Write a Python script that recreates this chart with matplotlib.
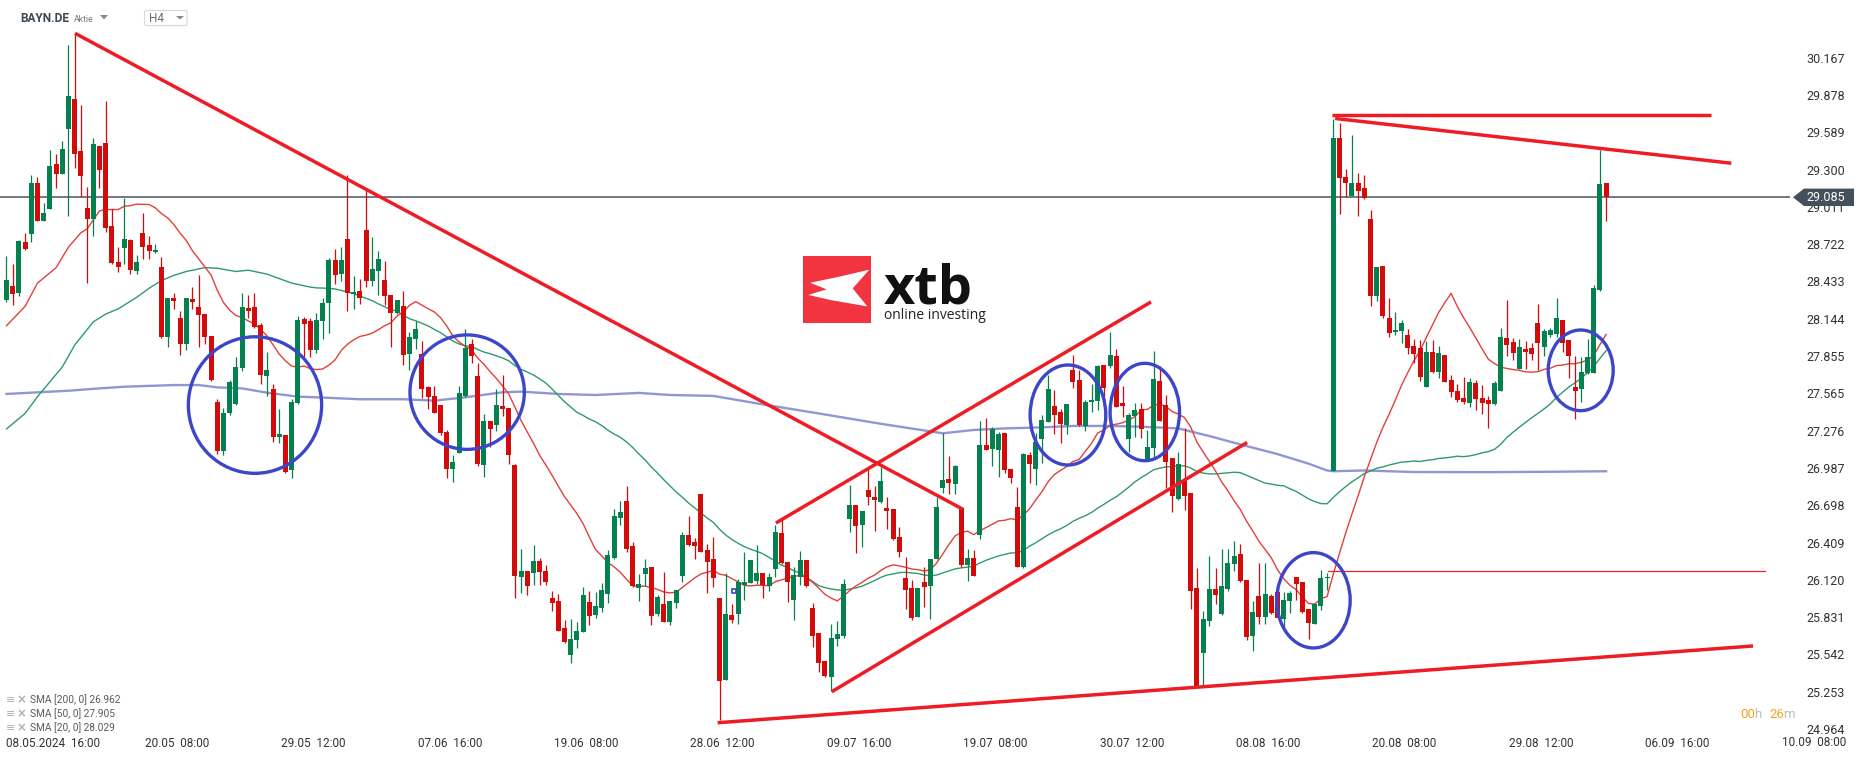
import numpy as np
import pandas as pd
import matplotlib
matplotlib.use("Agg")
import matplotlib.pyplot as plt
from matplotlib.patches import Ellipse, Polygon, FancyBboxPatch, Rectangle

plt.rcParams['font.family'] = ['Roboto', 'DejaVu Sans']

# ---------------- data (H4 candles, BAYN.DE) ----------------
opens = [
    28.289, 28.398, 28.346, 28.738, 28.803, 29.193, 28.904, 28.997, 29.343, 29.268,
    29.617, 29.847, 29.444, 29.002, 28.919, 29.483, 29.506, 28.863, 28.584, 28.695,
    28.754, 28.516, 28.806, 28.713, 28.658, 28.545, 28.005, 28.305, 28.150, 27.951,
    28.297, 28.235, 28.181, 28.007, 27.499, 27.121, 27.416, 27.483, 27.760, 28.228,
    28.235, 28.096, 27.703, 27.600, 27.225, 27.243, 26.972, 27.489, 28.142, 28.127,
    27.902, 28.127, 28.269, 28.600, 28.491, 28.762, 28.336, 28.357, 28.832, 28.439,
    28.517, 28.445, 28.328, 28.186, 28.243, 27.871, 27.987, 27.871, 27.613, 27.543,
    27.476, 27.267, 26.977, 27.106, 27.548, 27.946, 27.701, 27.013, 27.352, 27.323,
    27.468, 27.452, 27.011, 26.145, 26.189, 26.176, 26.267, 26.189, 25.983, 25.957,
    25.748, 25.541, 25.655, 25.714, 25.946, 25.846, 25.900, 26.008, 26.293, 26.603,
    26.732, 26.383, 26.060, 26.169, 26.223, 25.853, 25.934, 25.797, 25.939, 26.153,
    26.468, 26.414, 26.786, 26.352, 26.282, 25.980, 25.347, 25.848, 25.858, 26.078,
    26.098, 26.114, 26.171, 26.073, 26.207, 26.483, 26.259, 25.967, 26.140, 26.274,
    25.902, 25.708, 25.494, 25.370, 25.664, 25.685, 26.594, 26.700, 26.548, 26.817,
    26.762, 26.726, 26.677, 26.669, 26.452, 26.135, 26.057, 25.835, 26.104, 26.075,
    26.279, 26.835, 26.902, 26.860, 26.674, 26.235, 26.287, 26.468, 27.165, 27.137,
    27.124, 27.256, 26.977, 26.682, 26.222, 27.090, 26.982, 27.209, 27.346, 27.465,
    27.418, 27.320, 27.747, 27.669, 27.313, 27.496, 27.506, 27.785, 27.778, 27.855,
    27.488, 27.209, 27.393, 27.442, 27.059, 27.145, 27.661, 27.475, 27.065, 26.748,
    26.888, 26.793, 26.057, 25.553, 25.799, 26.049, 25.856, 26.049, 26.244, 26.318,
    26.117, 25.687, 25.998, 25.835, 25.998, 26.028, 25.820, 25.959, 26.146, 26.102,
    25.894, 25.782, 25.918, 26.131, 26.962, 29.542, 29.246, 29.097, 29.195, 29.157,
    28.917, 28.320, 28.552, 28.148, 28.039, 28.048, 28.018, 27.933, 27.914, 27.617,
    27.886, 27.734, 27.863, 27.669, 27.584, 27.527, 27.493, 27.643, 27.527, 27.514,
    27.480, 27.586, 27.992, 27.961, 27.754, 27.909, 27.914, 28.108, 27.927, 28.018,
    28.026, 28.134, 27.979, 27.612, 27.597, 27.726, 27.726, 28.367, 29.193,
]
highs = [
    28.630, 28.568, 28.754, 28.806, 29.258, 29.242, 29.041, 29.452, 29.421, 29.521,
    30.265, 30.356, 29.800, 29.167, 29.545, 29.483, 29.831, 28.997, 28.702, 29.077,
    28.762, 28.638, 28.961, 28.785, 28.723, 28.622, 28.305, 28.343, 28.201, 28.305,
    28.390, 28.480, 28.181, 28.007, 27.522, 27.455, 27.669, 27.847, 28.346, 28.326,
    28.341, 28.109, 27.887, 27.636, 27.447, 27.243, 27.525, 28.166, 28.160, 28.147,
    28.186, 28.302, 28.612, 28.687, 28.700, 29.258, 28.476, 28.450, 29.142, 28.775,
    28.669, 28.592, 28.328, 28.289, 28.359, 28.042, 28.129, 27.972, 27.626, 27.623,
    27.476, 27.282, 27.088, 27.623, 28.062, 27.985, 27.804, 27.406, 27.354, 27.600,
    27.708, 27.452, 27.019, 26.360, 26.189, 26.388, 26.293, 26.236, 26.032, 26.011,
    25.810, 25.817, 25.794, 26.065, 26.037, 26.029, 26.094, 26.352, 26.670, 26.734,
    26.848, 26.414, 26.166, 26.285, 26.223, 26.003, 26.181, 25.957, 26.045, 26.492,
    26.616, 26.445, 26.786, 26.399, 26.455, 25.980, 26.171, 25.933, 26.124, 26.336,
    26.274, 26.388, 26.171, 26.171, 26.543, 26.589, 26.259, 26.222, 26.344, 26.274,
    25.938, 25.708, 25.494, 25.778, 25.799, 26.124, 26.855, 26.700, 26.654, 26.997,
    26.850, 26.997, 26.760, 26.669, 26.527, 26.297, 26.119, 26.057, 26.222, 26.282,
    26.760, 27.256, 27.080, 27.008, 26.687, 26.357, 26.351, 27.354, 27.375, 27.302,
    27.263, 27.256, 26.977, 26.842, 27.106, 27.108, 27.261, 27.400, 27.708, 27.592,
    27.444, 27.483, 27.863, 27.747, 27.514, 27.638, 27.783, 27.785, 28.041, 27.912,
    27.625, 27.411, 27.488, 27.488, 27.282, 27.894, 27.780, 27.553, 27.065, 27.110,
    27.294, 26.793, 26.215, 25.879, 26.309, 26.215, 26.363, 26.363, 26.422, 26.398,
    26.117, 25.954, 26.250, 26.250, 26.007, 26.037, 26.028, 26.034, 26.146, 26.102,
    25.894, 25.939, 26.197, 26.176, 29.691, 29.661, 29.305, 29.566, 29.270, 29.258,
    28.988, 28.546, 28.552, 28.306, 28.193, 28.134, 28.065, 27.984, 27.979, 27.971,
    27.979, 27.933, 27.863, 27.705, 27.638, 27.695, 27.682, 27.669, 27.630, 27.545,
    27.664, 28.069, 28.289, 27.992, 27.984, 27.971, 27.953, 28.258, 28.062, 28.069,
    28.302, 28.134, 27.979, 27.855, 27.850, 27.984, 28.405, 29.452, 29.193,
]
lows = [
    28.276, 28.250, 28.320, 28.677, 28.741, 28.904, 28.904, 28.997, 29.157, 29.268,
    28.943, 29.309, 29.090, 28.418, 28.788, 29.160, 28.813, 28.565, 28.503, 28.565,
    28.488, 28.493, 28.604, 28.609, 28.656, 27.997, 27.927, 28.222, 27.860, 27.904,
    28.222, 27.927, 27.948, 27.664, 27.093, 27.085, 27.398, 27.475, 27.742, 28.153,
    28.075, 27.636, 27.546, 27.192, 27.179, 26.951, 26.907, 27.484, 27.850, 27.845,
    27.876, 27.985, 28.036, 28.414, 28.437, 28.207, 28.220, 28.259, 28.393, 28.398,
    28.328, 28.248, 27.928, 28.178, 27.788, 27.750, 27.907, 27.527, 27.442, 27.411,
    27.243, 26.907, 26.882, 27.106, 27.540, 27.799, 27.006, 26.920, 27.148, 27.277,
    27.390, 27.016, 25.977, 26.016, 26.006, 26.083, 26.081, 26.083, 25.882, 25.727,
    25.629, 25.474, 25.590, 25.714, 25.771, 25.822, 25.874, 25.939, 26.285, 26.546,
    26.337, 26.068, 25.959, 26.076, 25.768, 25.841, 25.791, 25.768, 25.905, 26.101,
    26.383, 26.285, 26.337, 26.021, 26.067, 25.034, 25.347, 25.783, 25.781, 25.964,
    26.093, 26.088, 25.982, 26.036, 26.142, 26.243, 25.951, 25.812, 26.080, 26.067,
    25.602, 25.403, 25.370, 25.256, 25.610, 25.672, 26.494, 26.331, 26.377, 26.700,
    26.501, 26.713, 26.514, 26.429, 26.300, 25.894, 25.809, 25.835, 25.912, 25.819,
    26.279, 26.791, 26.786, 26.783, 26.222, 26.114, 26.153, 26.437, 27.129, 27.003,
    26.920, 26.946, 26.871, 26.222, 26.215, 26.868, 26.855, 27.023, 27.346, 27.251,
    27.178, 27.251, 27.604, 27.313, 27.276, 27.424, 27.437, 27.501, 27.759, 27.462,
    27.385, 27.108, 27.230, 27.217, 27.049, 27.070, 27.349, 26.829, 26.649, 26.740,
    26.665, 25.894, 25.292, 25.301, 25.761, 25.936, 25.850, 26.037, 26.191, 26.102,
    25.657, 25.568, 25.781, 25.776, 25.859, 25.820, 25.746, 25.865, 25.968, 25.865,
    25.663, 25.776, 25.889, 26.043, 26.962, 28.958, 29.089, 29.092, 28.943, 29.074,
    28.246, 28.282, 28.148, 28.000, 28.015, 27.956, 27.867, 27.798, 27.661, 27.617,
    27.726, 27.682, 27.656, 27.540, 27.501, 27.483, 27.457, 27.437, 27.406, 27.295,
    27.475, 27.586, 27.855, 27.824, 27.752, 27.754, 27.824, 27.744, 27.855, 28.000,
    28.005, 27.889, 27.687, 27.364, 27.501, 27.713, 27.726, 28.361, 28.904,
]
closes = [
    28.444, 28.336, 28.746, 28.684, 29.193, 28.904, 28.963, 29.328, 29.268, 29.459,
    29.870, 29.423, 29.253, 28.919, 29.495, 29.299, 28.850, 28.578, 28.547, 28.759,
    28.524, 28.584, 28.702, 28.666, 28.677, 28.005, 28.305, 28.284, 27.951, 28.305,
    28.276, 28.170, 28.005, 27.669, 27.121, 27.411, 27.654, 27.770, 28.238, 28.207,
    28.083, 27.711, 27.747, 27.225, 27.251, 26.959, 27.499, 28.135, 28.106, 27.902,
    28.135, 28.264, 28.600, 28.486, 28.600, 28.341, 28.349, 28.302, 28.437, 28.530,
    28.607, 28.323, 28.186, 28.289, 27.866, 28.003, 28.065, 27.600, 27.540, 27.411,
    27.256, 26.977, 27.031, 27.566, 27.915, 27.858, 27.019, 27.352, 27.292, 27.476,
    27.442, 27.091, 26.153, 26.189, 26.076, 26.267, 26.184, 26.107, 25.944, 25.727,
    25.639, 25.662, 25.725, 26.003, 25.840, 25.918, 26.042, 26.313, 26.616, 26.647,
    26.357, 26.073, 26.086, 26.215, 25.843, 25.990, 25.791, 25.957, 26.045, 26.471,
    26.391, 26.383, 26.337, 26.262, 26.137, 25.339, 25.856, 25.809, 26.104, 26.104,
    26.274, 26.171, 26.078, 26.142, 26.491, 26.253, 26.106, 26.155, 26.274, 26.075,
    25.688, 25.478, 25.375, 25.670, 25.701, 26.088, 26.700, 26.540, 26.654, 26.760,
    26.739, 26.884, 26.656, 26.437, 26.339, 26.044, 25.827, 26.057, 26.067, 26.282,
    26.685, 26.894, 26.868, 27.003, 26.235, 26.287, 26.153, 27.165, 27.129, 27.287,
    27.251, 26.974, 26.912, 26.222, 27.098, 27.018, 27.189, 27.359, 27.599, 27.400,
    27.328, 27.483, 27.656, 27.320, 27.501, 27.514, 27.778, 27.610, 27.863, 27.462,
    27.468, 27.395, 27.437, 27.292, 27.150, 27.674, 27.349, 27.034, 26.773, 27.021,
    26.769, 26.037, 25.301, 25.814, 26.049, 26.004, 26.072, 26.250, 26.309, 26.108,
    25.681, 25.871, 25.835, 26.007, 25.865, 25.826, 25.968, 26.019, 26.087, 25.871,
    25.785, 25.930, 26.131, 26.146, 29.542, 29.231, 29.195, 29.195, 29.136, 29.077,
    28.320, 28.546, 28.163, 28.036, 28.059, 28.113, 27.920, 27.871, 27.690, 27.886,
    27.734, 27.876, 27.656, 27.573, 27.514, 27.501, 27.654, 27.524, 27.493, 27.480,
    27.643, 27.999, 27.943, 27.876, 27.922, 27.889, 27.871, 27.953, 28.049, 28.057,
    28.147, 27.953, 27.855, 27.586, 27.729, 27.845, 28.380, 29.188, 29.085,
]

x_tick_candles = [6, 28, 50, 72, 94, 116, 138, 160, 182, 204, 226, 248, 270]
x_tick_labels = ["08.05.2024  16:00", "20.05  08:00", "29.05  12:00", "07.06  16:00",
                 "19.06  08:00", "28.06  12:00", "09.07  16:00", "19.07  08:00",
                 "30.07  12:00", "08.08  16:00", "20.08  08:00", "29.08  12:00",
                 "06.09  16:00"]
x_edge_label = "10.09  08:00"
y_tick_values = [24.964, 25.253, 25.542, 25.831, 26.120, 26.409, 26.698, 26.987,
                 27.276, 27.565, 27.855, 28.144, 28.433, 28.722, 29.011, 29.300,
                 29.589, 29.878, 30.167]

# moving-average values read from the chart where the history is not visible
sma20_head_idx = [1, 4, 6, 9, 11, 13, 14, 16, 17, 19]
sma20_head_vals = [28.09, 28.24, 28.42, 28.54, 28.70, 28.81, 28.84, 28.98, 28.99, 28.99]
sma50_head_idx = [1, 4, 6, 10, 12, 15, 17, 19, 21, 22, 24, 26, 28, 30, 32, 33, 35, 38, 40, 43, 47]
sma50_head_vals = [27.29, 27.41, 27.54, 27.77, 27.94, 28.12, 28.18, 28.22, 28.28, 28.31,
                   28.38, 28.44, 28.48, 28.51, 28.53, 28.54, 28.535, 28.51, 28.52, 28.49, 28.42]
sma200_idx = [1, 5, 11, 16, 20, 25, 28, 32, 35, 39, 43, 48, 52, 58, 65, 70, 75, 77, 81, 84,
              90, 96, 103, 108, 115, 123, 132, 142, 152, 157, 162, 168, 173, 179, 184, 190,
              195, 200, 206, 211, 214, 215, 220, 228, 240, 250, 259]
sma200_vals = [27.561, 27.571, 27.586, 27.604, 27.617, 27.625, 27.630, 27.630, 27.612, 27.604,
               27.571, 27.540, 27.533, 27.520, 27.520, 27.509, 27.535, 27.548, 27.574, 27.579,
               27.561, 27.553, 27.569, 27.553, 27.546, 27.480, 27.410, 27.330, 27.256, 27.282,
               27.294, 27.302, 27.313, 27.313, 27.307, 27.294, 27.235, 27.170, 27.095, 27.021,
               26.968, 26.962, 26.968, 26.956, 26.955, 26.958, 26.962]

legend_names = ["SMA [200, 0]", "SMA [50, 0]", "SMA [20, 0]"]
legend_values = [26.962, 27.905, 28.029]
last_price = 29.085

# drawn analysis objects (candle number, price)
trend_lines = [
    ((12.05, 30.356), (155.2, 26.669)),
    ((125.1, 26.561), (185.6, 28.274)),
    ((134.1, 25.253), (201.1, 27.185)),
    ((115.7, 25.013), (282.7, 25.608)),
    ((214.8, 29.721), (275.9, 29.721)),
    ((215.3, 29.696), (279.2, 29.349)),
]
thin_level = ((214.2, 26.186), (284.6, 26.186))
circles = [  # centre candle, centre price, width (candles), height (price)
    (41.08, 27.475, 21.5, 1.058),
    (75.3, 27.575, 18.45, 0.887),
    (172.2, 27.398, 12.2, 0.775),
    (184.6, 27.421, 11.2, 0.755),
    (211.8, 25.962, 11.84, 0.739),
    (254.9, 27.744, 10.48, 0.625),
]

# ---------------- figure ----------------
W, H = 1866, 759
fig = plt.figure(figsize=(W / 100, H / 100), dpi=100)
fig.patch.set_facecolor('white')

AX_R, AX_B = 1790, 735
ax = fig.add_axes([0, (H - AX_B) / H, AX_R / W, AX_B / H])
ax.set_xlim(-0.048, 288.66)
ax.set_ylim(24.918, 30.614)
for s in ax.spines.values():
    s.set_visible(False)
ax.set_facecolor('white')

GREEN = '#05804f'
RED = '#d30b0b'

n = np.arange(1, len(closes) + 1)
o = np.array(opens); c = np.array(closes); h = np.array(highs); l = np.array(lows)
up = c >= o
cols = np.where(up, GREEN, RED)

# current price line
ax.axhline(last_price, color='#4a5560', lw=1.1, zorder=1)

# moving averages
cs = pd.Series(c, index=n)
s20 = cs.rolling(20).mean().dropna()
s50 = cs.rolling(50).mean().dropna()
ax.plot(sma200_idx, sma200_vals, color='#7d84cc', lw=1.7, alpha=0.85, zorder=2)
ax.plot(list(sma50_head_idx) + list(s50.index), list(sma50_head_vals) + list(s50.values),
        color='#2f9a6c', lw=1.0, zorder=2)
ax.plot(list(sma20_head_idx) + list(s20.index), list(sma20_head_vals) + list(s20.values),
        color='#e2413b', lw=1.0, zorder=2)

# candles
ax.vlines(n, l, h, colors=cols, linewidth=0.9, zorder=3)
ax.bar(n, np.maximum(np.abs(c - o), 0.009), bottom=np.minimum(o, c), width=0.82,
       color=cols, linewidth=0, zorder=4)

# analysis drawings
for (x0, y0), (x1, y1) in trend_lines:
    ax.plot([x0, x1], [y0, y1], color='#ee1c25', lw=2.5, solid_capstyle='butt', zorder=6)
ax.plot([thin_level[0][0], thin_level[1][0]], [thin_level[0][1], thin_level[1][1]],
        color='#e8262c', lw=0.9, zorder=6)
for cx, cy, w, hh in circles:
    ax.add_patch(Ellipse((cx, cy), w, hh, fill=False, ec='#3c46c8', lw=2.4, zorder=7))
ax.plot([118.4], [26.036], marker='s', ms=3.2, mfc='none', mec='#3c46c8', mew=1.2, zorder=7)

# axes ticks
ax.yaxis.tick_right()
ax.set_yticks(y_tick_values)
ax.set_yticklabels([f'{v:.3f}' for v in y_tick_values])
ax.tick_params(axis='y', length=0, pad=11.5, labelsize=9, labelcolor='#333333')
xt = [0.92] + [k + 0.5 for k in x_tick_candles[1:]]
ax.set_xticks(xt)
ax.set_xticklabels(x_tick_labels)
ax.tick_params(axis='x', length=0, pad=1.5, labelsize=8.5, labelcolor='#333333')
ax.get_xticklabels()[0].set_horizontalalignment('left')

# ---------------- overlay (pixel coordinates) ----------------
ov = fig.add_axes([0, 0, 1, 1], zorder=10)
ov.set_xlim(0, W); ov.set_ylim(H, 0); ov.axis('off'); ov.patch.set_alpha(0)

ov.text(1814, 742, x_edge_label, fontsize=8.5, color='#333333', ha='center', va='center')

# price tag
ov.add_patch(Polygon([(1793, 197.3), (1804, 188.6), (1854, 188.6), (1854, 206), (1804, 206)],
                     closed=True, fc='#44505b', ec='none'))
ov.text(1806, 197.6, f'{last_price:.3f}', fontsize=9, color='white', ha='left', va='center')

# header
ov.text(20, 19, 'BAYN.DE', fontsize=8.6, fontweight='bold', color='#3d4852', ha='left', va='center')
ov.text(73.5, 19.5, 'Aktie', fontsize=6.3, color='#7a7a7a', ha='left', va='center')
ov.add_patch(Polygon([(100, 15), (108, 15), (104, 19.5)], closed=True, fc='#8a8a8a', ec='none'))
ov.add_patch(FancyBboxPatch((144.5, 10.5), 42.5, 15, boxstyle='round,pad=0,rounding_size=2',
                            fc='white', ec='#d6d6d6', lw=0.8))
ov.text(149, 18.5, 'H4', fontsize=8.5, color='#6b6b6b', ha='left', va='center')
ov.add_patch(Polygon([(176, 16), (184, 16), (180, 19.5)], closed=True, fc='#8a8a8a', ec='none'))

# legend of indicators
for i, (nm, val) in enumerate(zip(legend_names, legend_values)):
    yy = 700 + i * 13.8
    ov.text(6, yy, '\u2261', fontsize=8, color='#b0b0b0', ha='left', va='center',
            family=['DejaVu Sans'])
    ov.text(17, yy, '\u00d7', fontsize=8.5, color='#b0b0b0', ha='left', va='center',
            fontweight='bold', family=['DejaVu Sans'])
    ov.text(30, yy, f'{nm} {val:.3f}', fontsize=7.3, color='#5a5a5a', ha='left', va='center')

# countdown
ov.text(1740, 714, '00', fontsize=9.5, color='#f7a21b', ha='left', va='center')
ov.text(1754.5, 714, 'h', fontsize=9.5, color='#bdbdbd', ha='left', va='center')
ov.text(1769, 714, '26', fontsize=9.5, color='#f7a21b', ha='left', va='center')
ov.text(1783.5, 714, 'm', fontsize=9.5, color='#bdbdbd', ha='left', va='center')

# xtb logo
sq_x, sq_y, sq = 803.3, 255.5, 67.4
ov.add_patch(Rectangle((sq_x, sq_y), sq, sq, fc='#f1343f', ec='none'))
rel = [(0.10, 0.405), (0.52, 0.317), (0.98, 0.21), (0.733, 0.488), (0.95, 0.756),
       (0.396, 0.659), (0.074, 0.585), (0.347, 0.502)]
ov.add_patch(Polygon([(sq_x + a * sq, sq_y + b * sq) for a, b in rel], closed=True,
                     fc='white', ec='none'))
ov.text(884, 304, 'xtb', fontsize=39, fontweight='bold', color='#111111', ha='left',
        va='baseline', family=['Open Sans', 'DejaVu Sans'])
ov.text(884, 308, 'online investing', fontsize=10, color='#222222', ha='left', va='top',
        family=['Open Sans', 'DejaVu Sans'])

fig.savefig('out.png', dpi=100, facecolor='white')
